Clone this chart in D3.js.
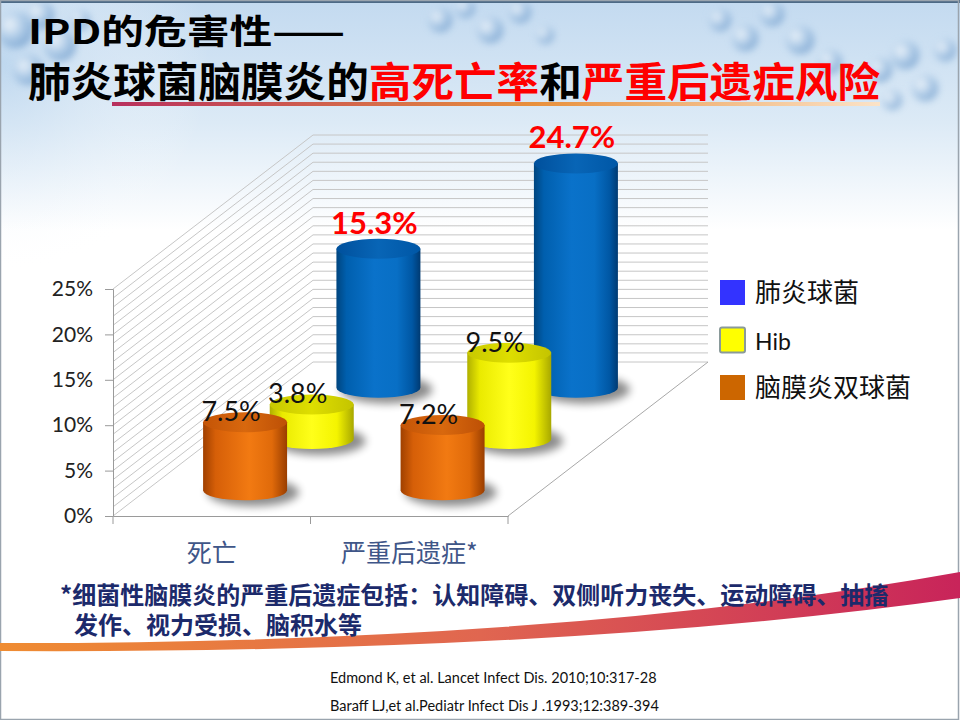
<!DOCTYPE html>
<html>
<head>
<meta charset="utf-8">
<script src="https://cdn.jsdelivr.net/npm/d3@7"></script>
<style>
  html, body { margin: 0; padding: 0; background: #fff; }
  svg { display: block; }
</style>
</head>
<body>
<div id="chart"></div>
<script>
// chart data
const categories = ['死亡', '严重后遗症*'];
const seriesNames = ['肺炎球菌', 'Hib', '脑膜炎双球菌'];
const pneumoValues = [15.3, 24.7];
const hibValues = [3.8, 9.5];
const meningValues = [7.5, 7.2];
const yTicks = [0, 5, 10, 15, 20, 25];

const W = 960, H = 720;
const FRONT_LEFT = 113, FRONT_RIGHT = 508, BASE_Y = 516, PLOT_H = 227;
const DEPTH_DX = 200, DEPTH_DY = -154;
const CYL_RX = 42, CYL_RY = 10;

const svg = d3.select('#chart')
    .append('svg')
    .attr('width', W)
    .attr('height', H);

const defs = svg.append('defs');

// ---- slide background ----
const bg = defs.append('linearGradient').attr('id', 'bgGrad')
    .attr('x1', 0).attr('y1', 0).attr('x2', 0).attr('y2', 1);
bg.append('stop').attr('offset', 0).attr('stop-color', '#c3daf0');
bg.append('stop').attr('offset', 0.17).attr('stop-color', '#dceaf6');
bg.append('stop').attr('offset', 0.32).attr('stop-color', '#ffffff');
bg.append('stop').attr('offset', 1).attr('stop-color', '#ffffff');

const bgLeft = defs.append('radialGradient').attr('id', 'bgLeft')
    .attr('cx', 0).attr('cy', 0.15).attr('r', 0.5);
bgLeft.append('stop').attr('offset', 0).attr('stop-color', '#bcd6ee').attr('stop-opacity', 0.9);
bgLeft.append('stop').attr('offset', 1).attr('stop-color', '#ffffff').attr('stop-opacity', 0);

svg.append('rect').attr('width', W).attr('height', H).attr('fill', 'url(#bgGrad)');
svg.append('rect').attr('width', 420).attr('height', 420).attr('fill', 'url(#bgLeft)');

// molecule decorations
defs.append('filter').attr('id', 'blur3')
    .append('feGaussianBlur').attr('stdDeviation', 3.5);
const ball = defs.append('radialGradient').attr('id', 'ball')
    .attr('cx', 0.35).attr('cy', 0.35).attr('r', 0.7);
ball.append('stop').attr('offset', 0).attr('stop-color', '#ffffff');
ball.append('stop').attr('offset', 0.5).attr('stop-color', '#a9c8e6');
ball.append('stop').attr('offset', 1).attr('stop-color', '#5d8fc4');

const blobs = [
    [15, 30, 18], [40, 15, 14], [60, 45, 16], [28, 70, 15], [80, 20, 10],
    [440, 20, 12], [465, 8, 10], [490, 30, 13], [520, 12, 11], [545, 35, 9],
    [720, 20, 11], [745, 38, 13], [772, 14, 12], [800, 40, 14], [830, 62, 12],
    [880, 70, 12], [905, 55, 14], [925, 88, 13], [945, 50, 11], [892, 100, 10]
];
svg.append('g').attr('filter', 'url(#blur3)').attr('opacity', 0.7)
    .selectAll('circle').data(blobs).enter().append('circle')
    .attr('cx', d => d[0]).attr('cy', d => d[1]).attr('r', d => d[2])
    .attr('fill', 'url(#ball)');

// frame
svg.append('rect').attr('x', 0).attr('y', 0).attr('width', W).attr('height', 3).attr('fill', '#4d6a86');
svg.append('rect').attr('x', 0.5).attr('y', 0.5).attr('width', W - 2).attr('height', H - 1)
    .attr('fill', 'none').attr('stroke', '#9aa4ae').attr('stroke-width', 1.5);

// ---- title ----
const title = svg.append('g')
    .style('font-family', '"Noto Sans CJK SC", sans-serif')
    .style('font-weight', 700);
title.append('text').attr('x', 28).attr('y', 44)
    .attr('font-size', 34).attr('fill', '#000')
    .attr('textLength', 317).attr('lengthAdjust', 'spacingAndGlyphs')
    .text('IPD的危害性——');
const t2 = title.append('text').attr('x', 28).attr('y', 97)
    .attr('font-size', 41)
    .attr('textLength', 852).attr('lengthAdjust', 'spacingAndGlyphs');
[['肺炎球菌脑膜炎的', '#000'], ['高死亡率', '#ff0000'], ['和', '#000'], ['严重后遗症风险', '#ff0000']]
    .forEach(p => t2.append('tspan').attr('fill', p[1]).text(p[0]));

const ul = defs.append('linearGradient').attr('id', 'ulGrad');
ul.append('stop').attr('offset', 0).attr('stop-color', '#b8305e');
ul.append('stop').attr('offset', 0.55).attr('stop-color', '#e8903c');
ul.append('stop').attr('offset', 1).attr('stop-color', '#fbe3c8');
svg.append('rect').attr('x', 112).attr('y', 102).attr('width', 768).attr('height', 4)
    .attr('fill', 'url(#ulGrad)');

// ---- scales ----
const x = d3.scaleBand().domain(categories).range([FRONT_LEFT, FRONT_RIGHT]);
const h = d3.scaleLinear().domain([0, 25]).range([0, PLOT_H]);
const yFront = d3.scaleLinear().domain([0, 25]).range([BASE_Y, BASE_Y - PLOT_H]);
// depth position of each series (front to back)
const depth = d3.scaleBand().domain(['脑膜炎双球菌', 'Hib', '肺炎球菌']).range([0, 1]);

function proj(px, v, f) {
    return [px + DEPTH_DX * f, yFront(v) + DEPTH_DY * f];
}

// ---- walls / gridlines ----
const grid = svg.append('g').attr('stroke', '#c6c6c6').attr('stroke-width', 1).attr('fill', 'none');
const gridVals = d3.range(0, 26);
grid.selectAll('.back').data(gridVals).enter().append('line')
    .attr('x1', d => proj(FRONT_LEFT, d, 1)[0]).attr('y1', d => proj(FRONT_LEFT, d, 1)[1])
    .attr('x2', d => proj(FRONT_RIGHT, d, 1)[0]).attr('y2', d => proj(FRONT_RIGHT, d, 1)[1]);
grid.selectAll('.side').data(gridVals).enter().append('line')
    .attr('x1', d => proj(FRONT_LEFT, d, 0)[0]).attr('y1', d => proj(FRONT_LEFT, d, 0)[1])
    .attr('x2', d => proj(FRONT_LEFT, d, 1)[0]).attr('y2', d => proj(FRONT_LEFT, d, 1)[1]);
// floor right edge
grid.append('line')
    .attr('x1', proj(FRONT_RIGHT, 0, 0)[0]).attr('y1', proj(FRONT_RIGHT, 0, 0)[1])
    .attr('x2', proj(FRONT_RIGHT, 0, 1)[0]).attr('y2', proj(FRONT_RIGHT, 0, 1)[1])
    .attr('stroke', '#a8a8a8');

// ---- axes ----
const yAxis = svg.append('g')
    .attr('transform', `translate(${FRONT_LEFT},0)`)
    .call(d3.axisLeft(yFront).tickValues(yTicks).tickSize(8).tickPadding(12)
        .tickFormat(d => d + '%'));
yAxis.selectAll('path, line').attr('stroke', '#9a9a9a');
yAxis.selectAll('text').attr('fill', '#222')
    .style('font-family', 'Lato, sans-serif').style('font-size', '21px');

const xAxis = svg.append('g')
    .attr('transform', `translate(0,${BASE_Y})`)
    .call(d3.axisBottom(x).tickSize(0).tickPadding(28));
xAxis.select('path').attr('stroke', '#9a9a9a');
xAxis.selectAll('text').attr('fill', '#3f5688')
    .style('font-family', '"Noto Sans CJK SC", serif').style('font-size', '25px');
xAxis.selectAll('.edge').data(categories.map(d => x(d)).concat([FRONT_RIGHT]))
    .enter().append('line').attr('class', 'edge')
    .attr('x1', d => d).attr('x2', d => d).attr('y1', 0).attr('y2', 8)
    .attr('stroke', '#9a9a9a');

// ---- cylinders ----
function makeGrad(id, stops) {
    const g = defs.append('linearGradient').attr('id', id)
        .attr('x1', 0).attr('y1', 0).attr('x2', 1).attr('y2', 0);
    stops.forEach(s => g.append('stop').attr('offset', s[0]).attr('stop-color', s[1]));
}
makeGrad('blueBody', [[0, '#00457f'], [0.12, '#005fae'], [0.45, '#0a72ca'], [0.72, '#086fc5'], [0.9, '#0057a4'], [1, '#003a72']]);
makeGrad('blueTop', [[0, '#00509c'], [0.5, '#0865b6'], [1, '#0057a6']]);
makeGrad('orangeBody', [[0, '#a04000'], [0.15, '#d65f08'], [0.55, '#f27a12'], [0.82, '#e06a0a'], [1, '#9a3e00']]);
makeGrad('orangeTop', [[0, '#c45406'], [0.5, '#d8680e'], [1, '#bd5006']]);
makeGrad('yellowBody', [[0, '#b0b000'], [0.15, '#eaea00'], [0.5, '#ffff1a'], [0.8, '#f4f400'], [1, '#a8a800']]);
makeGrad('yellowTop', [[0, '#c8c800'], [0.5, '#dede00'], [1, '#c4c400']]);

defs.append('filter').attr('id', 'shadow').attr('x', '-50%').attr('y', '-50%')
    .attr('width', '200%').attr('height', '200%')
    .append('feGaussianBlur').attr('stdDeviation', 4);

const series = [
    { name: '肺炎球菌', values: pneumoValues, body: 'blueBody', top: 'blueTop', red: true },
    { name: 'Hib', values: hibValues, body: 'yellowBody', top: 'yellowTop', red: false },
    { name: '脑膜炎双球菌', values: meningValues, body: 'orangeBody', top: 'orangeTop', red: false }
];

const cylData = [];
series.forEach(s => {
    s.values.forEach((v, i) => {
        const f = depth(s.name) + depth.bandwidth() / 2;
        const p = proj(x(categories[i]) + x.bandwidth() / 2, 0, f);
        cylData.push({ s: s, v: v, cx: p[0], base: p[1], top: p[1] - h(v) });
    });
});

const cyl = svg.append('g').selectAll('g').data(cylData).enter().append('g');
cyl.append('ellipse')
    .attr('cx', d => d.cx + 8).attr('cy', d => d.base + 2)
    .attr('rx', CYL_RX + 4).attr('ry', CYL_RY + 4)
    .attr('fill', '#000').attr('opacity', 0.45).attr('filter', 'url(#shadow)');
cyl.append('path')
    .attr('d', d => `M${d.cx - CYL_RX},${d.top} L${d.cx - CYL_RX},${d.base}` +
        ` A${CYL_RX},${CYL_RY} 0 0 0 ${d.cx + CYL_RX},${d.base} L${d.cx + CYL_RX},${d.top} Z`)
    .attr('fill', d => `url(#${d.s.body})`);
cyl.append('ellipse')
    .attr('cx', d => d.cx).attr('cy', d => d.top)
    .attr('rx', CYL_RX).attr('ry', CYL_RY)
    .attr('fill', d => `url(#${d.s.top})`);

// data labels
cyl.append('text')
    .attr('x', d => d.s.red ? d.cx - 4 : d.cx - 14)
    .attr('y', d => d.s.red ? d.top - 15 : d.top - 1)
    .attr('text-anchor', 'middle')
    .style('font-family', 'Lato, sans-serif')
    .style('font-size', d => d.s.red ? '31px' : '27px')
    .style('font-weight', d => d.s.red ? 700 : 400)
    .attr('fill', d => d.s.red ? '#ff0000' : '#111')
    .text(d => d.v.toFixed(1) + '%');

// ---- legend ----
const legendColors = ['#3333ff', '#ffff00', '#cc6600'];
const legend = svg.append('g').attr('transform', 'translate(720,280)');
const li = legend.selectAll('g').data(seriesNames).enter().append('g')
    .attr('transform', (d, i) => `translate(0,${i * 47.5})`);
li.append('rect').attr('width', 25).attr('height', 25)
    .attr('rx', (d, i) => i === 1 ? 2 : 0)
    .attr('fill', (d, i) => legendColors[i])
    .attr('stroke', (d, i) => i === 1 ? '#8a9a9a' : 'none')
    .attr('stroke-width', 2);
li.append('text').attr('x', 35).attr('y', 22)
    .style('font-family', (d, i) => i === 1 ? 'Lato, sans-serif' : '"Noto Sans CJK SC", sans-serif')
    .style('font-size', (d, i) => i === 1 ? '23px' : '26px')
    .attr('fill', '#111')
    .text(d => d);

// ---- bottom swoosh ----
const sw = defs.append('linearGradient').attr('id', 'swGrad');
sw.append('stop').attr('offset', 0).attr('stop-color', '#ef8c32');
sw.append('stop').attr('offset', 0.5).attr('stop-color', '#e06650');
sw.append('stop').attr('offset', 1).attr('stop-color', '#c8245a');
svg.append('path')
    .attr('d', 'M0,643 Q560,644 960,572 L960,598 Q560,654 0,651 Z')
    .attr('fill', 'url(#swGrad)');

// ---- footnote ----
const note = svg.append('g')
    .style('font-family', '"Noto Sans CJK SC", sans-serif')
    .style('font-weight', 700)
    .attr('fill', '#1c2a6b').attr('font-size', 24);
note.append('text').attr('x', 60).attr('y', 604)
    .text('*细菌性脑膜炎的严重后遗症包括：认知障碍、双侧听力丧失、运动障碍、抽搐');
note.append('text').attr('x', 74).attr('y', 634)
    .text('发作、视力受损、脑积水等');

// ---- references ----
const refs = ['Edmond K, et al. Lancet Infect Dis. 2010;10:317-28',
    'Baraff LJ,et al.Pediatr Infect Dis J .1993;12:389-394'];
svg.append('g').selectAll('text').data(refs).enter().append('text')
    .attr('x', 330).attr('y', (d, i) => 683 + i * 28)
    .style('font-family', 'Lato, sans-serif').style('font-size', '14.5px')
    .attr('fill', '#111')
    .text(d => d);
</script>
</body>
</html>
